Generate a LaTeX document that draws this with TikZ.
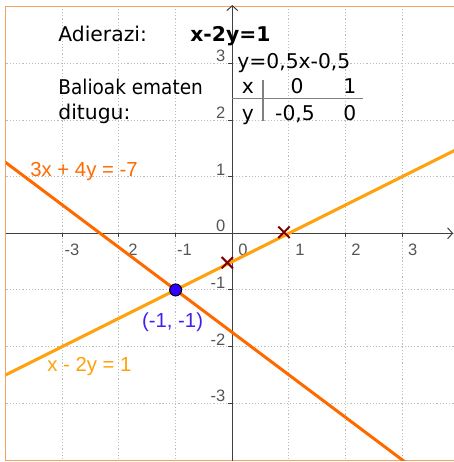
\documentclass[tikz,border=0pt]{standalone}
\usepackage{fontspec}
\setmainfont{DejaVu Sans}
\newfontfamily\labfont{Liberation Sans}
\newfontfamily\narrowfont[FakeStretch=0.91]{DejaVu Sans}
\usetikzlibrary{arrows.meta}
\definecolor{gridc}{HTML}{BDBDBD}
\definecolor{axisc}{HTML}{404040}
\definecolor{framec}{HTML}{F4A460}
\definecolor{lineA}{HTML}{FFA10A}
\definecolor{lineB}{HTML}{FF6A00}
\definecolor{ptblue}{HTML}{3300FF}
\definecolor{ptlab}{HTML}{4020F0}
\definecolor{crossc}{HTML}{800000}
\definecolor{tickc}{HTML}{555555}
\definecolor{tabc}{HTML}{808080}
\begin{document}
\begin{tikzpicture}[
  gridline/.style={gridc, line width=0.5pt, dash pattern=on 0.6pt off 1pt},
  axisline/.style={axisc, line width=0.5pt},
  ticklab/.style={font=\labfont\fontsize{8.3}{10}\selectfont, text=tickc, inner sep=0pt},
  maintext/.style={font=\fontsize{10.2}{12}\selectfont, inner sep=0pt, anchor=base west},
  tabtext/.style={font=\fontsize{10.2}{12}\selectfont, inner sep=0pt, anchor=base},
  eqlab/.style={font=\labfont\fontsize{10.2}{12}\selectfont, inner sep=0pt, anchor=base west},
  graphline/.style={line width=1.5pt},
  crossmark/.style={crossc, line width=1pt},
]
\useasboundingbox (-4.1006,-4.0371) rectangle (3.9135,4.1183);
% grid
\begin{scope}
\clip (-4.0,-4.014) rectangle (3.9135,4.012);
\foreach \x in {-3,...,3} \draw[gridline] (\x,-4.1) -- (\x,4.1);
\foreach \y in {-3,...,3} \draw[gridline] (-4.1,\y) -- (3.95,\y);
\end{scope}
% frame
\coordinate (fTR) at (3.9135,4.012);
\coordinate (fTL) at (-4.0,4.012);
\coordinate (fBL) at (-4.0,-4.014);
\coordinate (fBR) at (3.9135,-4.014);
\draw[framec, line width=0.5pt] (fTR) -- (fTL) -- (fBL) -- (fBR);
% axes
\coordinate (xs) at (-4.0,0);
\coordinate (xe) at (3.90,0);
\coordinate (ys) at (0,-4.014);
\coordinate (ye) at (0,4.03);
\draw[axisline, -{Straight Barb[length=2.5pt,width=5.5pt]}] (xs) -- (xe);
\draw[axisline, -{Straight Barb[length=2.5pt,width=5.5pt]}] (ys) -- (ye);
\foreach \x in {-3,...,3} \draw[axisline] (\x,0) -- (\x,-0.07);
\foreach \y in {-3,...,3} \draw[axisline] (0,\y) -- (-0.07,\y);
% x tick labels
\node[ticklab, anchor=base] (xl1) at (-2.830,-0.40) {-3};
\node[ticklab, anchor=base] (xl2) at (-1.753,-0.40) {2};
\node[ticklab, anchor=base] (xl3) at (-0.844,-0.40) {-1};
\node[ticklab, anchor=base] (xl4) at (0.189,-0.40) {0};
\node[ticklab, anchor=base] (xl5) at (1.195,-0.40) {1};
\node[ticklab, anchor=base] (xl6) at (2.184,-0.40) {2};
\node[ticklab, anchor=base] (xl7) at (3.184,-0.40) {3};
% y tick labels
\foreach \y/\t in {3/3,2/2,1/1,0/0,-1/-1,-2/-2,-3/-3}
  \node[ticklab, anchor=base east] (yl\y) at (-0.115,\y+0.026) {\t};
% texts
\node[maintext] (adierazi) at (-3.077,3.382) {Adierazi:};
\node[maintext, font=\bfseries\fontsize{10.2}{12}\selectfont] (eq) at (-0.747,3.382) {x-2y=1};
\node[maintext] (yeq) at (0.083,2.918) {y=0,5x-0,5};
\node[maintext, font=\narrowfont\fontsize{10.2}{12}\selectfont] (balio) at (-3.077,2.459) {Balioak ematen};
\node[maintext] (ditugu) at (-3.077,2.009) {ditugu:};
% table
\node[tabtext] (tx) at (0.277,2.468) {x};
\node[tabtext] (tx0) at (1.142,2.468) {0};
\node[tabtext] (tx1) at (2.077,2.468) {1};
\node[tabtext] (ty) at (0.277,1.991) {y};
\node[tabtext] (ty0) at (1.107,1.991) {-0,5};
\node[tabtext] (ty1) at (2.077,1.991) {0};
\coordinate (tv1) at (0.547,2.705);
\coordinate (tv2) at (0.547,1.988);
\coordinate (th1) at (0,2.383);
\coordinate (th2) at (2.312,2.383);
\draw[tabc, line width=0.8pt] (tv1) -- (tv2);
\draw[tabc, line width=0.8pt] (th1) -- (th2);
% graph lines
\begin{scope}
\clip (-4.0,-4.014) rectangle (3.9135,4.012);
\coordinate (a1) at (-4.1,-2.55);
\coordinate (a2) at (4.0,1.5);
\coordinate (b1) at (-4.1,1.325);
\coordinate (b2) at (3.1,-4.075);
\draw[graphline, lineA] (a1) -- (a2);
\draw[graphline, lineB] (b1) -- (b2);
\end{scope}
% equation labels
\node[eqlab, text=lineB] (labB) at (-3.571,0.999) {3x + 4y = -7};
\node[eqlab, text=lineA] (labA) at (-3.271,-2.443) {x - 2y = 1};
% crosses
\coordinate (c1) at (-0.088,-0.519);
\coordinate (c2) at (0.913,0.018);
\foreach \c in {c1,c2} {
  \draw[crossmark] ([shift={(-0.1,-0.1)}]\c) -- ([shift={(0.1,0.1)}]\c);
  \draw[crossmark] ([shift={(-0.1,0.1)}]\c) -- ([shift={(0.1,-0.1)}]\c);
}
% point
\node[circle, draw=black, fill=ptblue, line width=0.5pt, inner sep=0pt, minimum size=0.212cm] (P) at (-1,-1) {};
\node[eqlab, text=ptlab] (Plab) at (-1.599,-1.666) {(-1, -1)};
\end{tikzpicture}
\end{document}
